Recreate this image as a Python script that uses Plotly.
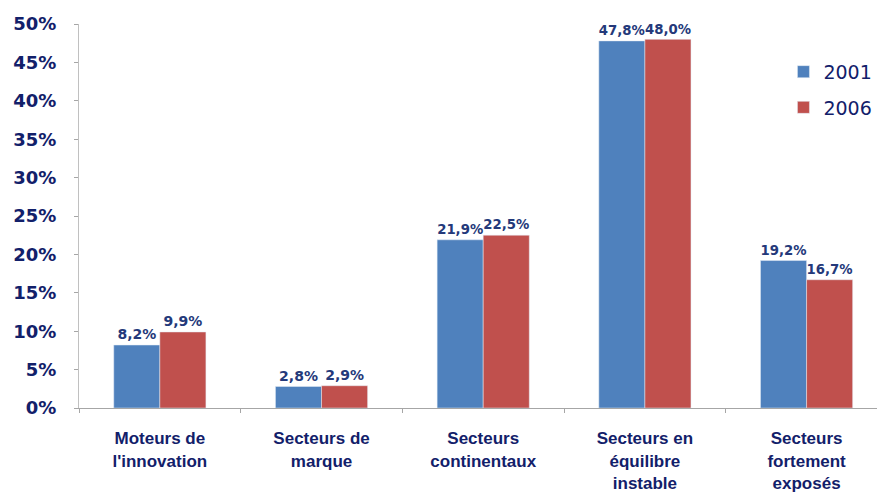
import plotly.graph_objects as go

categories = ["Moteurs de<br>l'innovation", "Secteurs de<br>marque", "Secteurs<br>continentaux",
              "Secteurs en<br>équilibre<br>instable", "Secteurs<br>fortement<br>exposés"]
values_2001 = [8.2, 2.8, 21.9, 47.8, 19.2]
values_2006 = [9.9, 2.9, 22.5, 48.0, 16.7]
y_ticks = [0, 5, 10, 15, 20, 25, 30, 35, 40, 45, 50]
y_tick_text = [f"<b>{v}%</b>" for v in y_ticks]

navy = "#12206a"
label_col = "#24397a"

fig = go.Figure()
fig.add_trace(go.Bar(x=categories, y=values_2001, name="2001", marker_color="#4F81BD",
                     legendgroup="a",
                     texttemplate="<b>%{y:.1f}%</b>", textposition="outside",
                     textfont=dict(size=14, color=label_col, family="DejaVu Sans"),
                     cliponaxis=False))
fig.add_trace(go.Bar(x=categories, y=values_2006, name="2006", marker_color="#C0504D",
                     legendgroup="b",
                     texttemplate="<b>%{y:.1f}%</b>", textposition="outside",
                     textfont=dict(size=14, color=label_col, family="DejaVu Sans"),
                     cliponaxis=False))

fig.update_layout(
    width=877, height=485,
    margin=dict(l=71, r=0, t=16, b=85),
    paper_bgcolor="white", plot_bgcolor="white",
    separators=", ",
    barmode="group", bargap=0.43, bargroupgap=0,
    font=dict(family="Liberation Sans", color=navy),
    showlegend=True,
    legend=dict(x=0.874, y=0.925, xanchor="left", yanchor="top",
                font=dict(size=19, color=navy, family="DejaVu Sans"),
                bgcolor="rgba(0,0,0,0)", itemwidth=30, tracegroupgap=8),
    xaxis=dict(range=[-0.5, 4.485], showline=True, linecolor="#a6a6a6", linewidth=1,
               ticks="outside", tickson="boundaries", ticklen=4, tickcolor="#a6a6a6",
               tickfont=dict(size=17, color=navy, family="Liberation Sans Narrow, Liberation Sans"),
               showgrid=False, automargin=False, ticklabelstandoff=15,
               tickvals=categories,
               ticktext=[f"<b>{c}</b>" for c in categories]),
    yaxis=dict(range=[0, 50], tickvals=y_ticks, ticktext=y_tick_text,
               showline=True, linecolor="#c0c0c0", linewidth=1,
               ticks="outside", ticklen=4, tickcolor="#a6a6a6",
               tickfont=dict(size=18, color=navy, family="DejaVu Sans"),
               showgrid=False, zeroline=False, ticklabelstandoff=14, automargin=False),
)

fig.write_html("out.html")
